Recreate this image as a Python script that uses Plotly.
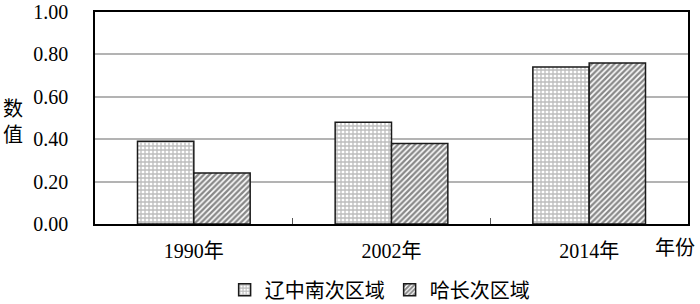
import plotly.graph_objects as go

categories = ["1990年", "2002年", "2014年"]
series_names = ["辽中南次区域", "哈长次区域"]
liao_values = [0.39, 0.48, 0.74]
ha_values = [0.24, 0.38, 0.76]
y_ticks = [0.0, 0.2, 0.4, 0.6, 0.8, 1.0]

FONT = "Liberation Serif, 'Noto Sans CJK SC', serif"

fig = go.Figure()
fig.add_trace(go.Bar(
    x=categories, y=liao_values, name=series_names[0],
    marker=dict(color="white", line=dict(color="#1a1a1a", width=1.5),
                pattern=dict(shape="+", fgcolor="#7a7a7a", bgcolor="white",
                             size=4, solidity=0.55)),
))
fig.add_trace(go.Bar(
    x=categories, y=ha_values, name=series_names[1],
    marker=dict(color="white", line=dict(color="#1a1a1a", width=1.5),
                pattern=dict(shape="/", fgcolor="#111111", bgcolor="white",
                             size=4, solidity=0.6)),
))

fig.update_layout(
    width=700, height=304,
    margin=dict(l=95, r=12, t=12, b=80, autoexpand=False),
    paper_bgcolor="white", plot_bgcolor="white",
    barmode="group", bargap=0.43, bargroupgap=0,
    font=dict(family=FONT, size=20, color="black"),
    showlegend=True,
    legend=dict(orientation="h", x=0.48, xanchor="center", y=-0.31, yanchor="middle",
                font=dict(size=20), itemwidth=30, tracegroupgap=0,
                bgcolor="rgba(0,0,0,0)"),
    xaxis=dict(showline=True, linecolor="black", linewidth=1.5, mirror=True,
               ticks="inside", tickson="boundaries", ticklen=6, tickcolor="#555",
               tickfont=dict(size=20), ticklabelstandoff=8, automargin=False),
    yaxis=dict(range=[0, 1.0], tickvals=y_ticks, tickformat=".2f",
               showline=True, linecolor="black", linewidth=1.5, mirror=True,
               showgrid=True, gridcolor="#b3b3b3", gridwidth=1.5,
               ticks="", tickfont=dict(size=20), ticklabelstandoff=21,
               zeroline=False, automargin=False),
    annotations=[
        dict(text="数<br>值", xref="paper", yref="paper", x=-0.138, y=0.48,
             xanchor="center", yanchor="middle", showarrow=False,
             font=dict(size=20)),
        dict(text="年份", xref="paper", yref="paper", x=0.978, y=-0.115,
             xanchor="center", yanchor="middle", showarrow=False,
             font=dict(size=20)),
    ],
)

fig.write_html("out.html", config={"displayModeBar": False},
               post_script="document.body.style.margin='0';document.body.style.overflow='hidden';")
